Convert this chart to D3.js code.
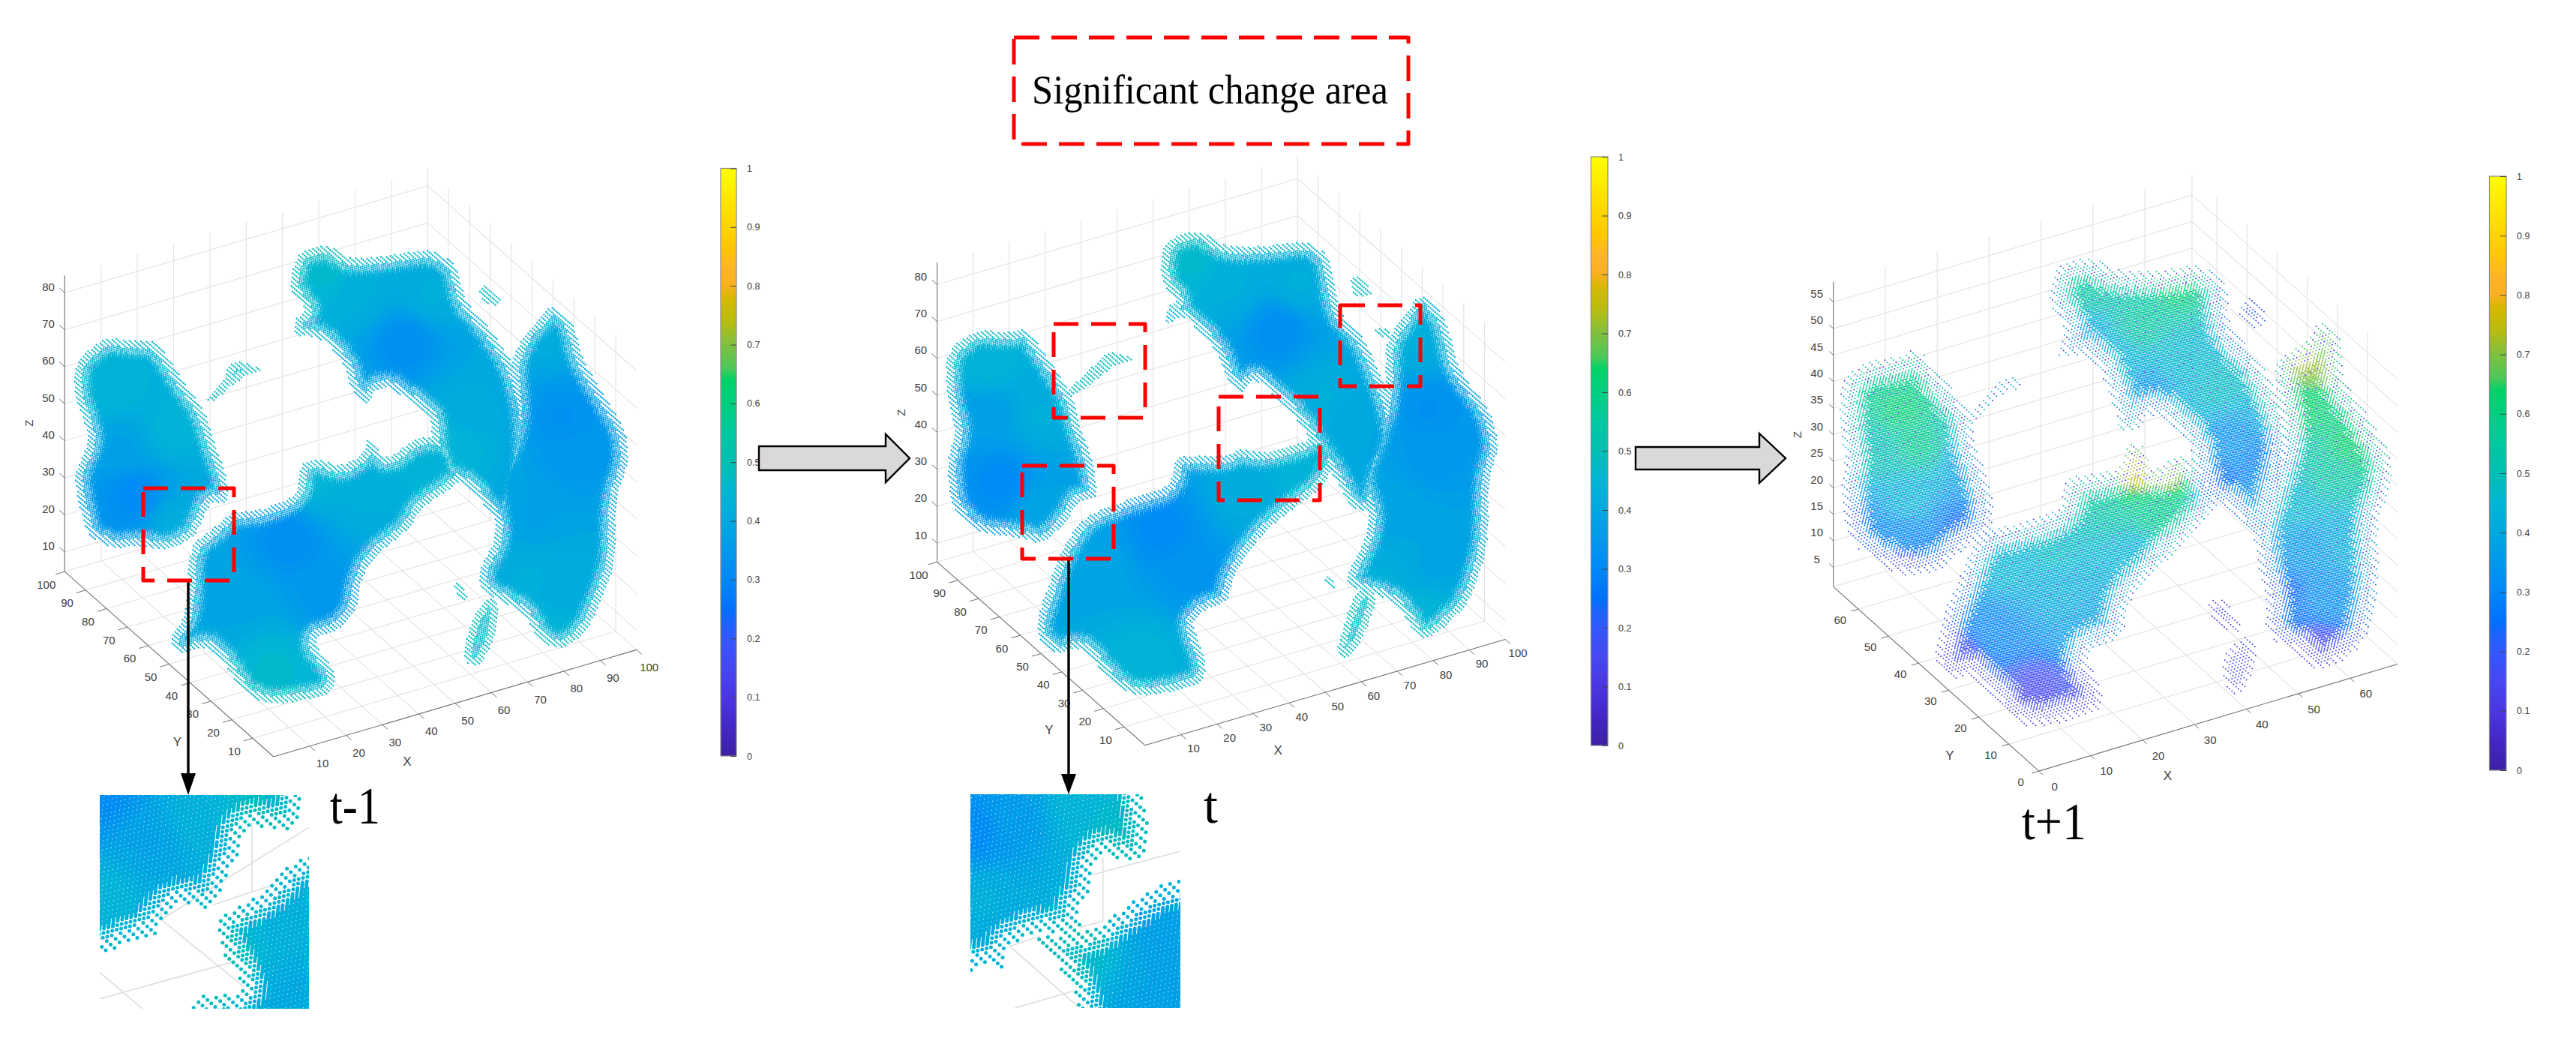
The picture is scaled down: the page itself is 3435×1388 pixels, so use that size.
<!DOCTYPE html>
<html><head><meta charset="utf-8"><style>html,body{margin:0;padding:0;background:#fff}svg{display:block}</style>
<script src="https://cdnjs.cloudflare.com/ajax/libs/d3/7.9.0/d3.min.js"></script></head><body>
<svg id="c" width="3435" height="1388"></svg>
<script>
// ---------- DATA ----------
const colorValues=[0,.05,.1,.15,.2,.23,.25,.3,.35,.4,.45,.5,.55,.6,.64,.66,.7,.74,.78,.8,.83,.87,.9,.95,1];
const colorStops=["#3d1fa3","#4427c6","#4a36e2","#4647f2","#3358ff","#1a64ff","#0070ff","#0088f8","#0098ec","#00a8e0","#00b6d4","#00bfb4","#00c8a0","#00cf80","#00d268","#4cc858","#80c040","#b8bc10","#d8b800","#f8b020","#ffb428","#ffc800","#ffd400","#ffe800","#ffff00"];
const colorbarTicks=[0,.1,.2,.3,.4,.5,.6,.7,.8,.9,1];
const ticks100=[10,20,30,40,50,60,70,80,90,100];
const zTicks80=[10,20,30,40,50,60,70,80];
const ticks60=[0,10,20,30,40,50,60];
const zTicks55=[5,10,15,20,25,30,35,40,45,50,55];

// cloud silhouettes of the three frames, in the frame's own view units
const blobsPrev=[
 [[200,455],[145,510],[140,590],[160,660],[170,710],[140,790],[150,860],[165,935],[215,970],[265,960],[320,975],[370,940],[390,885],[400,855],[435,860],[430,790],[410,720],[390,635],[355,575],[300,465],[260,465]],
 [[392,608],[428,555],[428,526],[460,512],[503,535],[468,548],[442,572],[405,613]],
 [[552,310],[568,245],[625,230],[665,265],[735,257],[820,240],[868,278],[885,370],[930,430],[980,530],[1003,640],[1003,760],[993,850],[950,910],[915,855],[885,815],[843,793],[830,760],[820,700],[820,650],[790,620],[740,577],[715,580],[695,625],[665,575],[660,535],[620,465],[585,450],[560,455],[560,410],[585,390],[550,340]],
 [[320,1190],[355,1130],[360,965],[405,920],[440,880],[500,875],[565,838],[570,765],[600,750],[650,770],[690,740],[700,695],[728,745],[745,745],[790,700],[830,695],[870,720],[885,800],[805,865],[775,925],[705,995],[685,1055],[675,1125],[645,1165],[590,1190],[640,1270],[630,1325],[520,1350],[465,1325],[425,1245],[395,1205],[340,1230]],
 [[1050,375],[1090,420],[1105,500],[1135,570],[1190,680],[1195,760],[1170,850],[1170,1000],[1150,1070],[1115,1175],[1065,1215],[1025,1195],[1000,1135],[960,1100],[915,1075],[910,1020],[945,940],[935,860],[925,790],[965,720],[980,640],[970,520],[995,450],[1028,405]],
 [[880,1225],[897,1140],[925,1085],[950,1100],[940,1190],[912,1255],[888,1250]],
 [[906,340],[925,326],[954,360],[948,379],[923,374]],
 [[858,1060],[873,1048],[892,1090],[880,1096]]
];
const anchorsPrev=[
 [260,840,.31],[230,720,.38],[220,580,.44],[330,680,.44],[330,900,.41],
 [770,470,.32],[680,350,.42],[820,350,.42],[900,640,.41],[880,720,.44],[620,300,.46],
 [550,950,.32],[620,1080,.35],[450,1100,.39],[700,840,.42],[800,760,.44],[520,1260,.46],[600,800,.44],
 [1070,650,.33],[1090,740,.35],[1020,890,.38],[1080,1060,.41],[1040,450,.41],[1060,1180,.44],[1010,1040,.42]
];
const blobsNow=[
 [[215,623],[160,668],[160,760],[180,830],[160,890],[170,985],[215,1035],[300,1045],[345,1060],[395,1003],[410,970],[450,965],[435,880],[410,810],[405,770],[365,700],[312,618],[280,630]],
 [[387,750],[438,698],[468,666],[528,685],[482,693],[442,728],[400,758]],
 [[566,490],[576,442],[640,420],[690,455],[760,455],[850,443],[890,478],[905,590],[955,640],[1004,770],[1018,850],[988,920],[968,995],[928,985],[897,922],[857,858],[832,813],[790,765],[745,720],[720,755],[692,722],[676,672],[637,623],[610,595],[576,614],[581,575],[600,565],[570,530]],
 [[330,1218],[346,1168],[376,1078],[418,1005],[500,970],[586,942],[596,880],[640,880],[690,880],[720,865],[760,875],[830,855],[880,830],[905,880],[875,945],[795,1005],[745,1055],[705,1125],[695,1175],[645,1195],[625,1218],[655,1300],[645,1345],[530,1370],[476,1345],[418,1265],[370,1285],[336,1254]],
 [[1065,545],[1110,600],[1130,700],[1195,790],[1210,860],[1190,930],[1190,1060],[1155,1175],[1100,1235],[1058,1255],[1032,1205],[1000,1170],[950,1155],[915,1135],[955,1050],[965,1000],[940,920],[970,840],[990,780],[995,720],[995,650],[1027,597]],
 [[901,1272],[932,1168],[955,1146],[979,1170],[954,1243],[927,1290],[908,1290]],
 [[927,516],[947,516],[974,552],[933,558]],
 [[877,1122],[892,1126],[899,1153],[883,1144]],
 [[972,621],[1003,621],[1003,643],[972,633]]
];
const anchorsNow=[
 [265,930,.31],[240,800,.37],[240,690,.44],[340,800,.42],[340,990,.39],
 [790,625,.32],[700,530,.42],[830,530,.42],[930,800,.40],[880,760,.42],[630,480,.46],
 [570,1030,.31],[630,1110,.34],[450,1120,.39],[720,960,.41],[830,900,.44],[530,1290,.44],
 [1075,785,.33],[1080,880,.35],[1020,1000,.39],[1090,1100,.39],[1050,650,.42],[1070,1200,.44],[990,1130,.42]
];
const blobsNext=[
 [[200,435],[150,478],[150,600],[160,650],[150,720],[165,835],[230,895],[280,915],[340,905],[390,853],[445,813],[445,730],[410,620],[405,550],[345,468],[300,405],[258,428]],
 [[392,562],[438,508],[470,466],[509,490],[452,513],[410,574]],
 [[550,290],[566,222],[630,200],[680,232],[760,236],[842,220],[895,258],[900,360],[965,440],[1015,560],[1015,660],[990,760],[968,835],[938,825],[897,765],[857,750],[830,682],[826,624],[750,545],[720,595],[688,590],[676,532],[637,425],[590,425],[566,424],[586,370],[560,320]],
 [[330,1113],[345,1010],[376,928],[417,816],[500,796],[577,766],[581,696],[640,686],[688,676],[708,614],[738,626],[753,685],[800,640],[864,688],[885,750],[854,793],[793,864],[705,965],[695,1055],[617,1083],[655,1160],[655,1215],[530,1255],[477,1235],[406,1133],[370,1150]],
 [[1070,345],[1115,368],[1120,480],[1155,530],[1215,650],[1210,720],[1185,790],[1190,920],[1170,1043],[1133,1095],[1075,1130],[1027,1090],[970,1043],[970,960],[955,900],[945,800],[980,690],[1005,600],[985,480],[990,428],[1048,397]],
 [[881,1102],[913,1061],[948,1041],[955,1110],[921,1185],[892,1163]],
 [[851,975],[885,960],[925,1020],[917,1045],[878,1024]],
 [[916,315],[940,290],[979,340],[951,365],[922,348]]
];
const anchorsNext=[
 [240,480,.58],[270,540,.62],[300,620,.58],[220,640,.50],[280,740,.44],[270,830,.31],[270,880,.18],[380,800,.24],[170,800,.25],[400,660,.37],
 [620,260,.55],[800,270,.62],[730,350,.55],[680,430,.44],[800,430,.46],[750,500,.35],[900,600,.33],[880,500,.48],[620,400,.37],[960,650,.28],[880,700,.24],
 [720,680,.76],[790,690,.70],[640,720,.55],[760,780,.58],[560,850,.48],[470,900,.45],[580,950,.42],[450,1030,.30],[620,1030,.38],[380,1100,.16],[530,1170,.15],[620,1180,.16],[720,860,.44],
 [1050,440,.72],[1080,400,.68],[1040,540,.64],[1130,620,.63],[1090,680,.55],[1030,750,.46],[1050,850,.36],[1090,950,.33],[1075,1080,.15],[1010,950,.24],[1140,850,.42],
 [920,1110,.18],[885,1000,.17],[945,330,.24],[450,510,.45]
];
const blobsInsetPrev=[
 [[-200,-100],[920,-100],[905,160],[850,200],[780,190],[710,180],[660,220],[655,300],[590,420],[580,470],[540,520],[470,490],[400,500],[340,560],[320,630],[270,625],[200,650],[150,690],[-100,720]],
 [[1150,270],[1150,1100],[420,1100],[465,900],[510,860],[630,860],[670,830],[630,750],[590,690],[570,620],[570,550],[620,520],[720,465],[800,410],[870,320]]
];
const anchorsInsetPrev=[[100,60,.31],[300,250,.38],[500,150,.43],[120,480,.44],[700,100,.47],[900,600,.42],[900,880,.40],[600,700,.47]];
const gridInsetPrev=[[350,555,935,190],[708,170,708,450],[345,490,345,555],[340,555,680,830],[100,770,270,915],[100,875,640,725],[550,500,790,420]];
const blobsInsetNow=[
 [[-200,-100],[745,-100],[785,220],[780,300],[720,330],[600,290],[560,350],[550,450],[495,530],[515,580],[470,620],[340,610],[270,640],[220,670],[210,780],[180,730],[110,750],[-100,830]],
 [[1150,360],[1150,1100],[530,1100],[490,830],[420,740],[350,650],[340,630],[480,620],[560,600],[680,520],[800,435],[880,410]]
];
const anchorsInsetNow=[[80,200,.31],[250,150,.36],[500,100,.44],[120,480,.42],[650,200,.47],[880,650,.37],[800,880,.38],[500,700,.47]];
const gridInsetNow=[[602,310,602,565],[555,380,912,285],[510,590,600,565],[230,665,350,625],[230,665,500,905],[250,912,480,845]];

// ---------- helpers ----------
const svg=d3.select("#c");
const color=d3.scaleLinear().domain(colorValues).range(colorStops).clamp(true);
const SANS="'Liberation Sans',Arial,sans-serif", SERIF="'Liberation Serif','Times New Roman',serif";
const TICK="#404040";
function chaikin(p,n){for(let k=0;k<n;k++){const o=[];p.forEach((a,i)=>{const b=p[(i+1)%p.length];o.push([a[0]*.8+b[0]*.2,a[1]*.8+b[1]*.2],[a[0]*.2+b[0]*.8,a[1]*.2+b[1]*.8]);});p=o;}return p;}
function edgeDist(p,x,y){let best=1e9;for(let i=0,n=p.length;i<n;i++){const a=p[i],b=p[(i+1)%n],dx=b[0]-a[0],dy=b[1]-a[1];let t=((x-a[0])*dx+(y-a[1])*dy)/(dx*dx+dy*dy||1);t=t<0?0:t>1?1:t;const ex=a[0]+t*dx-x,ey=a[1]+t*dy-y,d=ex*ex+ey*ey;if(d<best)best=d;}return Math.sqrt(best);}
function idw(anch,x,y,vx,vy){let s=0,w=0;for(const a of anch){const d=(vx(a[0])-x)**2+(vy(a[1])-y)**2+60;const q=1/(d*Math.sqrt(d));s+=q*a[2];w+=q;}return s/w;}

// Voxel lattice of one frame: rows of dots run down-right; deeper in the cloud more layers of the lattice show through.
function drawCloud(g,o){
 const {blobs,anchors,vx,vy,a,b,layers,r,edgeGain,edgeBand,fallback,speck}=o;
 const paths=new Map();
 const det=a[0]*b[1]-a[1]*b[0];
 blobs.forEach(raw=>{
  const poly=chaikin(raw.map(p=>[vx(p[0]),vy(p[1])]),2);
  const xs=poly.map(p=>p[0]),ys=poly.map(p=>p[1]);
  const x0=d3.min(xs),x1=d3.max(xs),y0=d3.min(ys),y1=d3.max(ys);
  const area=Math.abs(d3.polygonArea(poly));
  layers.forEach((l,li)=>{
   const corners=[[x0,y0],[x1,y0],[x0,y1],[x1,y1]].map(c=>{const X=c[0]-l.off[0]*b[0]-l.off[1]*a[0],Y=c[1]-l.off[0]*b[1]-l.off[1]*a[1];return[(X*b[1]-Y*b[0])/det,(a[0]*Y-a[1]*X)/det];});
   const i0=Math.floor(d3.min(corners,c=>c[0])),i1=Math.ceil(d3.max(corners,c=>c[0])),j0=Math.floor(d3.min(corners,c=>c[1])),j1=Math.ceil(d3.max(corners,c=>c[1]));
   for(let i=i0;i<=i1;i++)for(let j=j0;j<=j1;j++){
    const x=i*a[0]+(j+l.off[0])*b[0]+l.off[1]*a[0],y=i*a[1]+(j+l.off[0])*b[1]+l.off[1]*a[1];
    if(x<x0||x>x1||y<y0||y>y1)continue;
    if(!d3.polygonContains(poly,[x,y]))continue;
    const d=edgeDist(poly,x,y);
    if(d<l.depth)continue;
    let v=idw(anchors,x,y,vx,vy);
    if(area<3500&&fallback!==undefined)v=fallback;
    v+=edgeGain*(1-Math.min(1,d/edgeBand));
    if(speck){const m=d<edgeBand?speck.edgeEvery:speck.every;const h=(((i*31+j*17+li*7)%m)+m)%m;if(h===0)v=Math.min(v,speck.value);}
    const k=Math.round(v*80);
    if(!paths.has(k))paths.set(k,[]);
    paths.get(k).push(`M${x.toFixed(1)} ${y.toFixed(1)}l.01 0`);
   }
  });
 });
 g.selectAll("path.dots").data([...paths.entries()].sort((p,q)=>q[0]-p[0])).join("path").attr("class","dots")
  .attr("d",d=>d[1].join("")).attr("fill","none").attr("stroke",d=>color(d[0]/80)).attr("stroke-width",r*2).attr("stroke-linecap","round");
}

function drawFrame(o){
 const g=svg.append("g");
 const vx=d3.scaleLinear([0,1568],[o.cx,o.cx+o.cw]), vy=d3.scaleLinear([0,1568],[o.cy,o.cy+o.ch]);
 const xh=d3.scaleLinear([0,o.xMax],[0,o.ex[0]]),xv=d3.scaleLinear([0,o.xMax],[0,o.ex[1]]);
 const yh=d3.scaleLinear([0,o.yMax],[0,o.ey[0]]),yv=d3.scaleLinear([0,o.yMax],[0,o.ey[1]]);
 const zv=d3.scaleLinear([o.z0,o.z1],[0,o.zH]);
 const P=(x,y,z)=>[vx(o.F[0]+xh(x)+yh(y)),vy(o.F[1]+xv(x)+yv(y)+zv(z))];
 const seg=(A,B,cl,w)=>g.append("line").attr("x1",A[0]).attr("y1",A[1]).attr("x2",B[0]).attr("y2",B[1]).attr("stroke",cl).attr("stroke-width",w);
 const GR="#e4e4e4",xm=o.xMax,ym=o.yMax,z0=o.z0,z1=o.z1;
 o.xT.filter(t=>t>0&&t<xm).forEach(t=>{seg(P(t,0,z0),P(t,ym,z0),GR,1.2);seg(P(t,ym,z0),P(t,ym,z1),GR,1.2);});
 o.yT.filter(t=>t>0&&t<ym).forEach(t=>{seg(P(0,t,z0),P(xm,t,z0),GR,1.2);seg(P(xm,t,z0),P(xm,t,z1),GR,1.2);});
 o.zT.forEach(t=>{seg(P(0,ym,t),P(xm,ym,t),GR,1.2);seg(P(xm,ym,t),P(xm,0,t),GR,1.2);});
 seg(P(0,ym,z0),P(xm,ym,z0),GR,1.2);seg(P(xm,ym,z0),P(xm,0,z0),GR,1.2);seg(P(xm,ym,z0),P(xm,ym,z1),GR,1.2);
 const AX="#707070";
 seg(P(0,0,z0),P(xm,0,z0),AX,1.1);seg(P(0,0,z0),P(0,ym,z0),AX,1.1);seg(P(0,ym,z0),P(0,ym,z1),AX,1.1);
 const txt=(p,dx,dy,s,fs,rot)=>{const X=p[0]+dx*o.cw/1568,Y=p[1]+dy*o.ch/1568;
  const t=g.append("text").attr("x",X).attr("y",Y).attr("text-anchor","middle").attr("dominant-baseline","central").attr("font-family",SANS).attr("font-size",fs).attr("fill",TICK).text(s);
  if(rot)t.attr("transform",`rotate(${rot},${X},${Y})`);};
 const tx=o.tick;
 o.xT.forEach(t=>{const A=P(t,0,z0);seg(A,P(t,-ym*tx,z0),AX,1);txt(A,o.xOff[0],o.xOff[1],t,o.fs);});
 o.yT.forEach(t=>{const A=P(0,t,z0);seg(A,P(-xm*tx,t,z0),AX,1);txt(A,o.yOff[0],o.yOff[1],t,o.fs);});
 o.zT.forEach(t=>{const A=P(0,ym,t);seg(A,P(0,ym*(1+tx),t),AX,1);txt(A,o.zOff[0],o.zOff[1],t,o.fs);});
 txt([vx(o.xL[0]),vy(o.xL[1])],0,0,"X",o.fs+2);
 txt([vx(o.yL[0]),vy(o.yL[1])],0,0,"Y",o.fs+2);
 txt([vx(o.zL[0]),vy(o.zL[1])],0,0,"Z",o.fs,-90);
 drawCloud(g.append("g"),{blobs:o.blobs,anchors:o.anchors,vx,vy,a:o.a,b:o.b,layers:o.layers,r:o.r,edgeGain:o.edgeGain,edgeBand:o.edgeBand,fallback:o.fallback,speck:o.speck});
}

const denseLayers=[{off:[0,0],depth:0},{off:[.5,.5],depth:10},{off:[.25,.25],depth:17},{off:[.75,.75],depth:19},{off:[.12,.6],depth:22},{off:[.62,.1],depth:24},{off:[.37,.85],depth:26},{off:[.87,.35],depth:28}];

drawFrame({cx:0,cy:200,cw:1100,ch:860,F:[520,1475],xMax:100,yMax:100,ex:[690,-260],ey:[-397,-450],z0:4.67,z1:84.67,zH:-720,
 xT:ticks100,yT:ticks100,zT:zTicks80,xOff:[24,42],yOff:[-35,31],zOff:[-31,-15],tick:.025,fs:15,xL:[774,1487],yL:[337,1440],zL:[55,664],
 blobs:blobsPrev,anchors:anchorsPrev,a:[2.3,2.0],b:[-3.0,3.6],layers:denseLayers,r:1.2,edgeGain:.035,edgeBand:24,fallback:.45});
drawFrame({cx:1150,cy:30,cw:1100,ch:1030,F:[537,1467],xMax:100,yMax:100,ex:[685,-215],ey:[-395,-372],z0:4.93,z1:86,zH:-608,
 xT:ticks100,yT:ticks100,zT:zTicks80,xOff:[24,28],yOff:[-35,26],zOff:[-31,-17],tick:.025,fs:15,xL:[790,1477],yL:[355,1437],zL:[73,792],
 blobs:blobsNow,anchors:anchorsNow,a:[2.3,2.0],b:[-3.0,3.6],layers:denseLayers,r:1.2,edgeGain:.035,edgeBand:24,fallback:.45});
drawFrame({cx:2350,cy:220,cw:1085,ch:940,F:[533,1348],xMax:69.1,yMax:68.3,ex:[691,-238],ey:[-396,-410],z0:1.36,z1:58.8,zH:-678,
 xT:ticks60,yT:ticks60,zT:zTicks55,xOff:[30,34],yOff:[-35,24],zOff:[-32,-19],tick:.02,fs:15,xL:[781,1358],yL:[361,1314],zL:[67,600],
 blobs:blobsNext,anchors:anchorsNext,a:[3.2,2.9],b:[-5.4,6.0],
 layers:[{off:[0,0],depth:0},{off:[.5,.5],depth:10},{off:[.25,.25],depth:22},{off:[.75,.75],depth:24},{off:[.12,.6],depth:30},{off:[.62,.1],depth:33},{off:[.37,.85],depth:36},{off:[.87,.35],depth:40}],
 r:1,edgeGain:-.05,edgeBand:22,speck:{every:37,edgeEvery:4,value:.12}});

function drawInset(o){
 const id="clip"+o.key;
 svg.append("clipPath").attr("id",id).append("rect").attr("x",o.x).attr("y",o.y).attr("width",o.w).attr("height",o.h);
 const g=svg.append("g").attr("clip-path",`url(#${id})`);
 const vx=d3.scaleLinear([0,3],[o.ox,o.ox+1]),vy=d3.scaleLinear([0,3],[o.oy,o.oy+1]);
 g.selectAll("line").data(o.grid).join("line").attr("x1",d=>vx(d[0])).attr("y1",d=>vy(d[1])).attr("x2",d=>vx(d[2])).attr("y2",d=>vy(d[3])).attr("stroke","#dcdcdc").attr("stroke-width",1.6);
 drawCloud(g.append("g"),{blobs:o.blobs,anchors:o.anchors,vx,vy,a:[5.2,4.6],b:[-6.6,7.6],r:2.5,edgeGain:.03,edgeBand:30,
  layers:[{off:[0,0],depth:0},{off:[.5,.5],depth:18},{off:[.25,.25],depth:30},{off:[.75,.75],depth:30},{off:[.12,.6],depth:36},{off:[.62,.1],depth:36}]});
}
drawInset({key:"a",x:133,y:1060,w:279,h:285,ox:100,oy:1040,blobs:blobsInsetPrev,anchors:anchorsInsetPrev,grid:gridInsetPrev});
drawInset({key:"b",x:1294,y:1059,w:280,h:285,ox:1270,oy:1040,blobs:blobsInsetNow,anchors:anchorsInsetNow,grid:gridInsetNow});

function colorbar(key,x,w,top,bottom){
 const grad=svg.append("linearGradient").attr("id","cb"+key).attr("x1",0).attr("x2",0).attr("y1",1).attr("y2",0);
 colorValues.forEach((v,i)=>grad.append("stop").attr("offset",v).attr("stop-color",colorStops[i]));
 svg.append("rect").attr("x",x).attr("y",top).attr("width",w).attr("height",bottom-top).attr("fill",`url(#cb${key})`).attr("stroke","#8a8a8a").attr("stroke-width",1.2);
 const sc=d3.scaleLinear([0,1],[bottom,top]);
 const ax=svg.append("g").attr("transform",`translate(${x+w},0)`).call(d3.axisRight(sc).tickValues(colorbarTicks).tickFormat(d3.format("~g")).tickSize(-8).tickPadding(14));
 ax.select(".domain").remove();
 ax.selectAll("line").attr("stroke","#444");
 ax.selectAll("text").attr("font-family",SANS).attr("font-size",12.5).attr("fill",TICK);
}
colorbar("a",961,21,224.5,1008);
colorbar("b",2121.5,22.5,209,994);
colorbar("c",3319.5,22.5,235,1027);

const line=d3.line();
function flow(x0,x1,x2,yc,hs,hh){
 svg.append("path").attr("d",line([[x0,yc-hs],[x1,yc-hs],[x1,yc-hh],[x2,yc],[x1,yc+hh],[x1,yc+hs],[x0,yc+hs]])+"Z").attr("fill","#d9d9d9").attr("stroke","#000").attr("stroke-width",2.4);
}
flow(1012,1181,1213,611,16,32);
flow(2181,2346,2381,611,15,33);

function drop(x,y0,y1,hb,hw){
 svg.append("line").attr("x1",x).attr("x2",x).attr("y1",y0).attr("y2",hb).attr("stroke","#000").attr("stroke-width",3.4);
 svg.append("path").attr("d",line([[x-hw,hb],[x+hw,hb],[x,y1]])+"Z").attr("fill","#000");
}
drop(251,774,1060,1031,10);
drop(1425,745,1059,1032,10);

const boxes=[[191,651,312,774],[1405,432,1527,557],[1363,621,1485,745],[1625,529,1760,667],[1787,407,1894,515]];
svg.selectAll("rect.red").data(boxes).join("rect").attr("class","red").attr("x",d=>d[0]).attr("y",d=>d[1]).attr("width",d=>d[2]-d[0]).attr("height",d=>d[3]-d[1])
 .attr("fill","none").attr("stroke","#ff0000").attr("stroke-width",5).attr("stroke-linejoin","round").attr("stroke-dasharray","33 17");
svg.append("rect").attr("x",1352).attr("y",50).attr("width",526).attr("height",142).attr("fill","none").attr("stroke","#ff0000").attr("stroke-width",5).attr("stroke-linejoin","round").attr("stroke-dasharray","34 16");

const cap=(s,x,y,fs,len)=>svg.append("text").attr("x",x).attr("y",y).attr("font-family",SERIF).attr("font-size",fs).attr("fill","#000").attr("textLength",len).attr("lengthAdjust","spacingAndGlyphs").text(s);
cap("Significant change area",1376,138,54,475);
cap("t-1",440,1098,70,67);
cap("t",1605,1097,70,19);
cap("t+1",2696,1119,70,86);
</script></body></html>
